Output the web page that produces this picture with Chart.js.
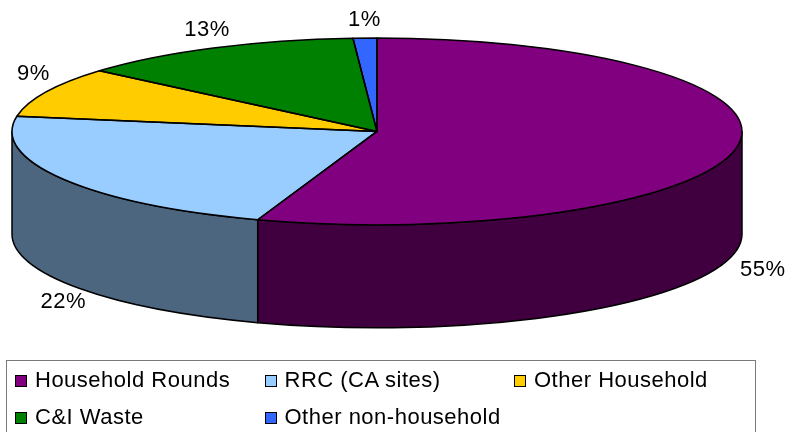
<!DOCTYPE html>
<html>
<head>
<meta charset="utf-8">
<script src="https://cdn.jsdelivr.net/npm/chart.js@4.4.1/dist/chart.umd.min.js"></script>
<style>
  html, body { margin: 0; padding: 0; background: #fff; }
  #wrap { position: relative; width: 786px; height: 432px; overflow: hidden;
          font-family: "Liberation Sans", Arial, sans-serif; }
  #pie { position: absolute; left: 0; top: 0; }
  #key { position: absolute; left: 6px; top: 360px; width: 750px; height: 90px;
         border: 1px solid #7a7a7a; box-sizing: border-box; }
  .item { position: absolute; font-size: 22px; line-height: 22px; letter-spacing: 0.5px;
          color: #000; white-space: nowrap; }
  .sw { position: absolute; width: 10px; height: 10px; border: 1px solid #000; }
</style>
</head>
<body>
<div id="wrap">
  <canvas id="pie" width="786" height="432"></canvas>
  <div id="key"></div>
</div>
<script>
// Waste arisings by source (share of total)
const categories = ['Household Rounds', 'RRC (CA sites)', 'Other Household', 'C&I Waste', 'Other non-household'];
const shares = [55.3, 22.3, 8.65, 12.7, 1.05];
const topColours = ['#800080', '#99CCFF', '#FFCC00', '#008000', '#3366FF'];
const sideColours = ['#400040', '#4D6680', '#806600', '#004000', '#1A3380'];

// Look of the tilted disc
const TILT = 0.256;       // vertical radius / horizontal radius
const THICKNESS = 0.282;  // wall height / horizontal radius
const EDGE = '#000';

function discGeometry(chart) {
  const a = chart.chartArea;
  const rx = a.width / 2;
  const ry = rx * TILT;
  return { cx: a.left + rx, cy: a.top + ry, rx, ry, depth: rx * THICKNESS };
}

const tiltedPie = {
  id: 'tiltedPie',
  beforeDatasetsDraw(chart) {
    const ctx = chart.ctx;
    const g = discGeometry(chart);
    const arcs = chart.getDatasetMeta(0).data;

    // front walls of the disc (only the half facing the viewer)
    ctx.save();
    ctx.lineWidth = 1.5;
    ctx.strokeStyle = EDGE;
    ctx.lineJoin = 'round';
    arcs.forEach((arc, i) => {
      for (let k = -1; k <= 1; k++) {
        const a = Math.max(arc.startAngle + 2 * Math.PI * k, 0);
        const b = Math.min(arc.endAngle + 2 * Math.PI * k, Math.PI);
        if (b <= a) continue;
        ctx.beginPath();
        ctx.ellipse(g.cx, g.cy, g.rx, g.ry, 0, a, b);
        ctx.ellipse(g.cx, g.cy + g.depth, g.rx, g.ry, 0, b, a, true);
        ctx.closePath();
        ctx.fillStyle = sideColours[i];
        ctx.fill();
        ctx.stroke();
      }
    });
    ctx.restore();

    // squash the library's circular slices onto the top face
    const ref = arcs[0];
    ctx.save();
    ctx.translate(g.cx, g.cy);
    ctx.scale(g.rx / ref.outerRadius, g.ry / ref.outerRadius);
    ctx.translate(-ref.x, -ref.y);
  },
  afterDatasetsDraw(chart) {
    const ctx = chart.ctx;
    ctx.restore();
    const g = discGeometry(chart);
    const arcs = chart.getDatasetMeta(0).data;

    // slice outlines on the top face
    ctx.save();
    ctx.lineWidth = 1.5;
    ctx.strokeStyle = EDGE;
    ctx.lineJoin = 'round';
    arcs.forEach(arc => {
      ctx.beginPath();
      ctx.moveTo(g.cx, g.cy);
      ctx.ellipse(g.cx, g.cy, g.rx, g.ry, 0, arc.startAngle, arc.endAngle);
      ctx.closePath();
      ctx.stroke();
    });
    ctx.restore();
  },
  afterDraw(chart) {
    const ctx = chart.ctx;
    const g = discGeometry(chart);
    const arcs = chart.getDatasetMeta(0).data;
    const total = shares.reduce((s, v) => s + v, 0);

    // percentage labels just outside each slice; front ones sit below the wall
    ctx.save();
    ctx.font = '22px "Liberation Sans", Arial, sans-serif';
    ctx.letterSpacing = '0.5px';
    ctx.fillStyle = '#000';
    ctx.textAlign = 'center';
    ctx.textBaseline = 'middle';
    arcs.forEach((arc, i) => {
      const m = (arc.startAngle + arc.endAngle) / 2;
      const c = Math.cos(m), s = Math.sin(m);
      const front = s > 0;
      const x = g.cx + g.rx * c + c * 14 + (front ? 12 : 0);
      const y = g.cy + g.ry * s + (front ? g.depth + 20 : -18);
      ctx.fillText(Math.round(shares[i] / total * 100) + '%', x, y);
    });
    ctx.restore();
  }
};

new Chart(document.getElementById('pie'), {
  type: 'pie',
  data: {
    labels: categories,
    datasets: [{
      data: shares,
      backgroundColor: topColours,
      borderWidth: 0,
      hoverOffset: 0,
      clip: false
    }]
  },
  options: {
    responsive: false,
    animation: false,
    events: [],
    rotation: 0,
    layout: { padding: { left: 12, right: 44, top: 38, bottom: 100 } },
    plugins: {
      legend: { display: false },
      tooltip: { enabled: false }
    }
  },
  plugins: [tiltedPie]
});

// legend: three columns, two rows
const wrap = document.getElementById('wrap');
categories.forEach((name, i) => {
  const col = i % 3, row = Math.floor(i / 3);
  const sw = document.createElement('div');
  sw.className = 'sw';
  sw.style.left = (15 + col * 249.5) + 'px';
  sw.style.top = (375 + row * 37) + 'px';
  sw.style.background = topColours[i];
  wrap.appendChild(sw);
  const t = document.createElement('div');
  t.className = 'item';
  t.textContent = name;
  t.style.left = (35 + col * 249.5) + 'px';
  t.style.top = (369 + row * 36.5) + 'px';
  wrap.appendChild(t);
});
</script>
</body>
</html>
